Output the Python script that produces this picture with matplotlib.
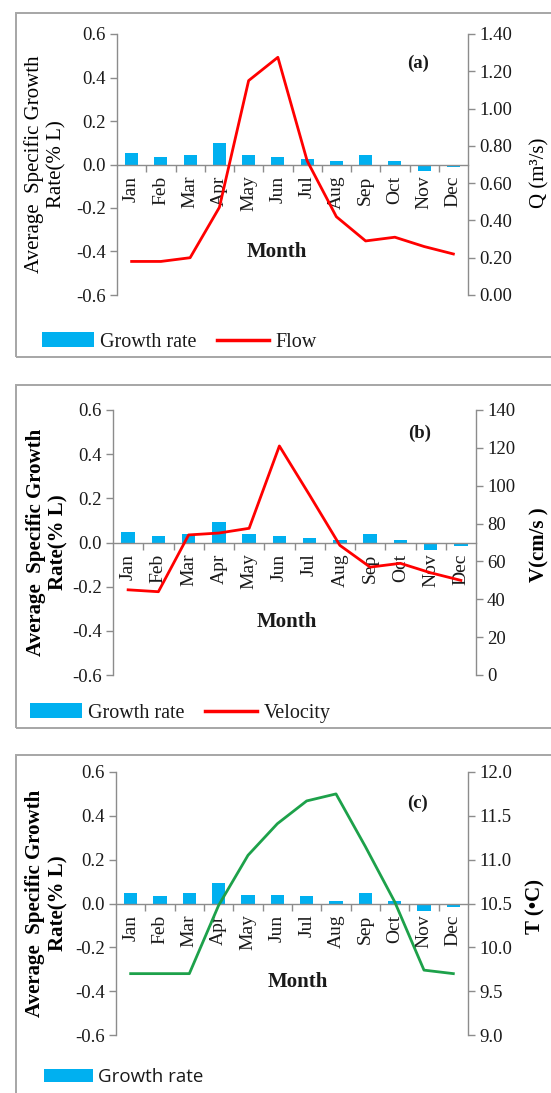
"""Monthly growth rate of periphyton vs. flow, velocity and water temperature."""

import matplotlib
matplotlib.use("Agg")
import matplotlib.pyplot as plt
from matplotlib.patches import Patch, Rectangle
from matplotlib.lines import Line2D
from matplotlib.ticker import FixedLocator, FormatStrFormatter, MultipleLocator
import numpy as np

# ── data ──────────────────────────────────────────────────────────────────────
MONTHS = ["Jan", "Feb", "Mar", "Apr", "May", "Jun",
          "Jul", "Aug", "Sep", "Oct", "Nov", "Dec"]

GROWTH_A = [0.054, 0.035, 0.043, 0.100, 0.043, 0.035,
            0.023, 0.015, 0.043, 0.015, -0.030, -0.010]
FLOW = [0.18, 0.18, 0.20, 0.47, 1.15, 1.275, 0.72, 0.42, 0.29, 0.31, 0.26, 0.22]

GROWTH_B = [0.048, 0.030, 0.038, 0.095, 0.038, 0.030,
            0.021, 0.012, 0.038, 0.012, -0.033, -0.015]
VELOCITY = [45, 44, 74, 75, 77.5, 121, 95, 68.5, 57, 59, 54, 50]

GROWTH_C = [0.050, 0.032, 0.050, 0.095, 0.040, 0.040,
            0.032, 0.013, 0.050, 0.013, -0.033, -0.015]
TEMP = [9.70, 9.70, 9.70, 10.48, 11.05, 11.41, 11.67, 11.75, 11.15, 10.52, 9.74, 9.70]

# ── style ─────────────────────────────────────────────────────────────────────
W, H = 551, 1093
SERIF = "Liberation Serif"
BAR = "#00B0F0"
AXC = "#8C8C8C"
TXT = "#1A1A1A"

plt.rcParams.update({
    "font.family": SERIF,
    "font.size": 13,
    "text.color": TXT,
    "xtick.color": AXC,
    "ytick.color": AXC,
    "xtick.labelcolor": TXT,
    "ytick.labelcolor": TXT,
})


def rect(l, r, t, b):
    """pixel box -> figure fraction [left, bottom, width, height]"""
    return [l / W, 1 - b / H, (r - l) / W, (b - t) / H]


def panel(fig, box, growth, values, color, rlim, rstep, rfmt, rlabel,
          bold, ylab_x, rlab_xy):
    ax = fig.add_axes(box)
    x = np.arange(len(MONTHS))
    ax.bar(x, growth, 0.45, color=BAR, zorder=2)

    ax.set_xlim(-0.5, len(MONTHS) - 0.5)
    ax.set_ylim(-0.6, 0.6)
    ax.yaxis.set_major_locator(MultipleLocator(0.2))
    ax.yaxis.set_major_formatter(FormatStrFormatter("%.1f"))

    for s in ("top", "right"):
        ax.spines[s].set_visible(False)
    ax.spines["bottom"].set_position(("data", 0))
    for s in ("left", "bottom"):
        ax.spines[s].set_color(AXC)
        ax.spines[s].set_linewidth(1.0)

    # tick marks between categories, month names at the centres
    ax.xaxis.set_major_locator(FixedLocator(np.arange(0.5, len(MONTHS) - 1, 1)))
    ax.xaxis.set_major_formatter(plt.NullFormatter())
    ax.set_xticks(x, minor=True)
    ax.set_xticklabels(MONTHS, minor=True, rotation=90, fontsize=14)
    ax.tick_params(axis="x", which="major", direction="out", length=5, width=1)
    ax.tick_params(axis="x", which="minor", length=0, pad=8)
    ax.tick_params(axis="y", direction="out", length=5, width=1, labelsize=13.5, pad=3)

    weight = "bold" if bold else "normal"
    ax.set_ylabel("Average  Specific Growth\nRate(% L)", fontsize=15,
                  fontweight=weight, linespacing=1.2)
    ax.yaxis.set_label_coords(ylab_x, 0.5)

    ax2 = ax.twinx()
    ax2.plot(x, values, color=color, lw=2.0, zorder=3)
    ax2.set_ylim(*rlim)
    ax2.yaxis.set_major_locator(MultipleLocator(rstep))
    ax2.yaxis.set_major_formatter(FormatStrFormatter(rfmt))
    for s in ("top", "bottom", "left"):
        ax2.spines[s].set_visible(False)
    ax2.spines["right"].set_color(AXC)
    ax2.spines["right"].set_linewidth(1.0)
    ax2.tick_params(axis="y", direction="out", length=5, width=1, labelsize=13.5, pad=3)
    ax2.set_ylabel(rlabel, fontsize=15, fontweight=weight)
    ax2.yaxis.set_label_coords(*rlab_xy)
    return ax, ax2


fig = plt.figure(figsize=(W / 100, H / 100), dpi=100)
fig.patch.set_facecolor("white")

# panel frames
for top, bottom in [(13, 357), (385, 728), (755, 1100)]:
    fig.patches.append(Rectangle((16 / W, 1 - bottom / H), 600 / W, (bottom - top) / H,
                                 transform=fig.transFigure, fill=False,
                                 edgecolor="#A6A6A6", lw=1.4))

# (a) flow
panel(fig, rect(117, 468, 34, 295), GROWTH_A, FLOW, "#FF0000",
      (0, 1.4), 0.2, "%.2f", "Q (m³/s)", False, -0.145, (1.177, 0.47))
# (b) velocity
panel(fig, rect(113, 476, 410, 675), GROWTH_B, VELOCITY, "#FF0000",
      (0, 140), 20, "%d", "V(cm/s )", True, -0.122, (1.146, 0.49))
# (c) temperature
panel(fig, rect(116, 468, 772, 1035), GROWTH_C, TEMP, "#1DA14A",
      (9.0, 12.0), 0.5, "%.1f", "T (•C)", True, -0.136, (1.162, 0.487))

for tag, (px, py) in {"(a)": (418, 63), "(b)": (420, 433), "(c)": (418, 803)}.items():
    fig.text(px / W, 1 - py / H, tag, ha="center", va="center",
             fontsize=13.5, fontweight="bold")

for px, py in [(277, 252), (287, 622), (298, 982)]:
    fig.text(px / W, 1 - py / H, "Month", ha="center", va="center",
             fontsize=15, fontweight="bold")

bar_h = Patch(facecolor=BAR, edgecolor="none", label="Growth rate")
leg_kw = dict(loc="center left", frameon=False, ncol=2, borderpad=0,
              borderaxespad=0, handlelength=2.6, handletextpad=0.3,
              columnspacing=1.0)
fig.legend(handles=[bar_h, Line2D([], [], color="#FF0000", lw=2.5, label="Flow")],
           bbox_to_anchor=(42 / W, 1 - 342 / H), prop={"family": SERIF, "size": 14.5},
           **leg_kw)
fig.legend(handles=[bar_h, Line2D([], [], color="#FF0000", lw=2.5, label="Velocity")],
           bbox_to_anchor=(30 / W, 1 - 713 / H), prop={"family": SERIF, "size": 14.5},
           **leg_kw)
fig.legend(handles=[bar_h], bbox_to_anchor=(44 / W, 1 - 1077 / H),
           prop={"family": "Open Sans", "size": 13.5}, **leg_kw)

fig.savefig("out.png", dpi=100, facecolor="white")
